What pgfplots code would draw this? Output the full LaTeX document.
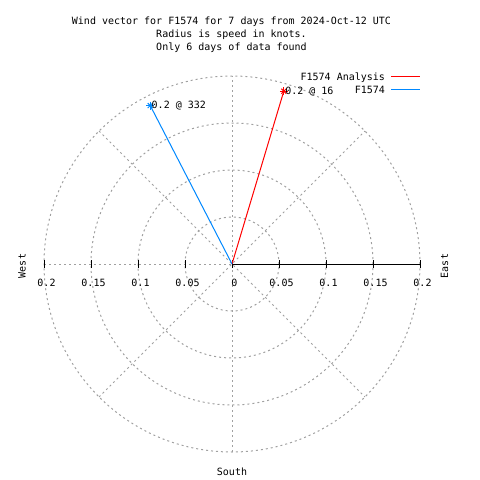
\documentclass[border=0pt]{standalone}
\usepackage{fontspec}
\setmainfont{DejaVu Sans Mono}
\usepackage{pgfplots}
\pgfplotsset{compat=1.18}
\definecolor{gridgray}{RGB}{160,160,160}
\definecolor{anared}{RGB}{255,0,0}
\definecolor{obsblue}{RGB}{0,136,255}
\begin{document}
\fontsize{10bp}{13bp}\selectfont
\begin{tikzpicture}[font=\fontsize{10bp}{13bp}\selectfont,
  gridl/.style={gridgray, line width=1bp, dash pattern=on 2bp off 3bp}]
\path[use as bounding box] (0bp,0bp) rectangle (480bp,-480bp);
\begin{axis}[at={(44bp,-452bp)}, anchor=south west, scale only axis,
  width=376bp, height=376bp,
  xmin=-0.2, xmax=0.2, ymin=-0.2, ymax=0.2,
  hide axis, clip=false,
  legend style={draw=none, fill=none, at={(1.003,1.011)}, anchor=north east,
    font=\fontsize{10bp}{13bp}\selectfont, inner sep=0pt, row sep=3bp, column sep=6bp,
    nodes={inner sep=0pt, text height=8bp, text depth=2bp}},
  legend cell align=right, legend plot pos=right,
  legend image code/.code={\draw[#1] (0bp,0.5bp) -- (29bp,0.5bp);},
]
% grid circles
\draw[gridl] (axis cs:0,0) circle[radius=0.05];
\draw[gridl] (axis cs:0,0) circle[radius=0.1];
\draw[gridl] (axis cs:0,0) circle[radius=0.15];
\draw[gridl] (axis cs:0,0) circle[radius=0.2];
% radial grid lines
\draw[gridl] (axis cs:-0.2,0) -- (axis cs:0,0);
\draw[gridl] (axis cs:0,-0.2) -- (axis cs:0,0.2);
\draw[gridl] (axis cs:-0.141421,-0.141421) -- (axis cs:0.141421,0.141421);
\draw[gridl] (axis cs:-0.141421,0.141421) -- (axis cs:0.141421,-0.141421);
% radial axis
\draw[black, line width=1bp] (axis cs:0,0) -- (axis cs:0.2,0);
\pgfplotsinvokeforeach{-0.2,-0.15,-0.1,-0.05,0,0.05,0.1,0.15,0.2}{
  \draw[black, line width=1bp] (axis cs:#1,-0.00426) -- (axis cs:#1,0.00426);
}
% data
\addplot[anared, line width=1bp] coordinates {(0,0) (0.0551,0.1838)};
\addlegendentry{F1574 Analysis}
\addplot[obsblue, line width=1bp] coordinates {(0,0) (-0.0870,0.1686)};
\addlegendentry{F1574}
\addplot[anared, only marks, mark=+, mark size=4bp, line width=1bp, forget plot] coordinates {(0.0551,0.1838)};
\addplot[anared, only marks, mark=x, mark size=3.5bp, line width=1bp, forget plot,
  nodes near coords={0.2 @ 16},
  every node near coord/.append style={anchor=west, inner sep=0pt, xshift=1bp, black}] coordinates {(0.0551,0.1838)};
\addplot[obsblue, only marks, mark=+, mark size=4bp, line width=1bp, forget plot] coordinates {(-0.0870,0.1686)};
\addplot[obsblue, only marks, mark=x, mark size=3.5bp, line width=1bp, forget plot,
  nodes near coords={0.2 @ 332},
  every node near coord/.append style={anchor=west, inner sep=0pt, xshift=1bp, black}] coordinates {(-0.0870,0.1686)};
\end{axis}
% title
\node[anchor=base] at (231.5bp,-24bp) {Wind vector for F1574 for 7 days from 2024-Oct-12 UTC};
\node[anchor=base] at (231.5bp,-37.3bp) {Radius is speed in knots.};
\node[anchor=base] at (231.5bp,-50.3bp) {Only 6 days of data found};
% tick labels
\node[anchor=base] at (46.5bp,-286bp) {0.2};
\node[anchor=base] at (93.5bp,-286bp) {0.15};
\node[anchor=base] at (140.5bp,-286bp) {0.1};
\node[anchor=base] at (187.5bp,-286bp) {0.05};
\node[anchor=base] at (234.3bp,-286bp) {0};
\node[anchor=base] at (281.5bp,-286bp) {0.05};
\node[anchor=base] at (328.5bp,-286bp) {0.1};
\node[anchor=base] at (375.5bp,-286bp) {0.15};
\node[anchor=base] at (422.5bp,-286bp) {0.2};
% compass labels
\node[rotate=90] at (22bp,-266bp) {West};
\node[rotate=90] at (444.5bp,-266bp) {East};
\node[anchor=base] at (232bp,-475bp) {South};
\end{tikzpicture}
\end{document}
